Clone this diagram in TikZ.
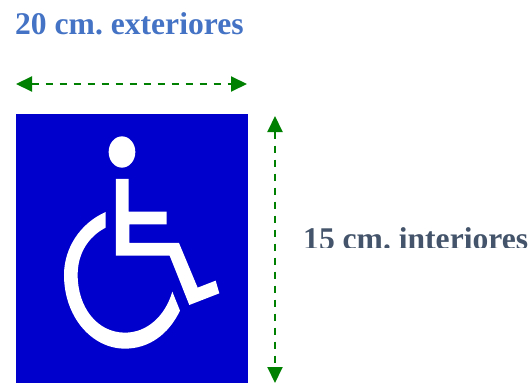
\documentclass[tikz,border=0pt]{standalone}
\usepackage{fontspec}
\setmainfont{Liberation Serif}
\usetikzlibrary{arrows.meta}
\definecolor{signblue}{HTML}{0000CC}
\definecolor{dimgreen}{HTML}{008000}
\definecolor{titleblue}{HTML}{4472C4}
\definecolor{slateblue}{HTML}{44546A}
\tikzset{
  dimline/.style={draw=dimgreen,line width=2pt,dash pattern=on 7pt off 7pt,
    {Triangle[length=16pt,width=15pt,fill=dimgreen]}-{Triangle[length=16pt,width=15pt,fill=dimgreen]}},
  bigtext/.style={font=\frenchspacing\bfseries\fontsize{31.6}{36}\selectfont,anchor=base west,inner sep=0pt},
  glyph/.style={fill=white,draw=none}
}
\begin{document}
\begin{tikzpicture}[x=1pt,y=-1pt]
\useasboundingbox (0,0) rectangle (531,383);
\fill[signblue] (16,114) rectangle (247.5,383);
\begin{scope}[shift={(50,120)},x=0.3333pt,y=-0.3333pt]
  \fill[glyph] (216,96) ellipse [x radius=40,y radius=47];
  \fill[glyph] (198,177) -- (236,177) -- (236,275) -- (350,275) -- (350,313) -- (238,313)
    -- (238,369) -- (387,369) -- (443,503) -- (497,482) -- (508,520) -- (418,555)
    -- (359,407) -- (198,407) -- cycle;
  \fill[glyph] (167,276) .. controls (90,310) and (42,385) .. (42,465)
    .. controls (42,590) and (125,686) .. (225,686)
    .. controls (295,686) and (355,645) .. (390,572)
    -- (367,515)
    .. controls (345,590) and (290,638) .. (225,638)
    .. controls (140,638) and (83,560) .. (83,465)
    .. controls (83,400) and (115,350) .. (167,323) -- cycle;
\end{scope}
\coordinate (hl) at (16,84);
\coordinate (hr) at (247,84);
\coordinate (vt) at (275,116);
\coordinate (vb) at (275,383);
\draw[dimline] (hl) -- (hr);
\draw[dimline] (vt) -- (vb);
\node[bigtext,text=titleblue] (top) at (15,34.5) {20 cm. exteriores};
\begin{scope}
  \clip (290,200) rectangle (531,247.5);
  \node[bigtext,text=slateblue] (side) at (303,249) {15 cm. interiores};
\end{scope}
\end{tikzpicture}
\end{document}
